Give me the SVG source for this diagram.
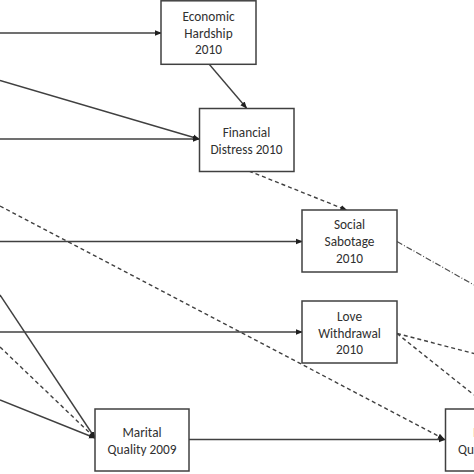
<svg xmlns="http://www.w3.org/2000/svg" width="474" height="474" viewBox="0 0 474 474">
<style>
.box{fill:#fff;stroke:#404040;stroke-width:1.5}
.t{font-family:Carlito,"Liberation Sans",Arial,sans-serif;font-size:13.3px;fill:#303030;text-anchor:middle}
.s{fill:none;stroke:#404040;stroke-width:1.4}
.d{fill:none;stroke:#404040;stroke-width:1.4;stroke-dasharray:4 3}
.dd{fill:none;stroke:#505050;stroke-width:1.2;stroke-dasharray:6 2 1 2}
</style>
<defs>
<marker id="a" viewBox="0 0 8 8" refX="7" refY="4" markerWidth="7" markerHeight="7" markerUnits="userSpaceOnUse" orient="auto">
<path d="M0,0.8 L8,4 L0,7.2 Z" fill="#202020"/>
</marker>
</defs>
<rect width="474" height="474" fill="#fff"/>
<g id="connectors">
<line class="s" x1="0" y1="33" x2="161" y2="33" marker-end="url(#a)"/>
<line class="s" x1="0" y1="80.5" x2="199" y2="139" marker-end="url(#a)"/>
<line class="s" x1="0" y1="139" x2="199" y2="139" marker-end="url(#a)"/>
<line class="s" x1="209" y1="64" x2="246.5" y2="108" marker-end="url(#a)"/>
<line class="d" x1="249" y1="171" x2="346.5" y2="210" marker-end="url(#a)"/>
<line class="s" x1="0" y1="241.5" x2="302" y2="241.5" marker-end="url(#a)"/>
<line class="s" x1="0" y1="332" x2="302" y2="332" marker-end="url(#a)"/>
<line class="d" x1="0" y1="206" x2="444" y2="439" marker-end="url(#a)"/>
<line class="s" x1="0" y1="295" x2="95" y2="438" marker-end="url(#a)"/>
<line class="d" x1="0" y1="347" x2="95" y2="438" marker-end="url(#a)"/>
<line class="s" x1="0" y1="400" x2="95" y2="438" marker-end="url(#a)"/>
<line class="s" x1="189" y1="439.5" x2="445" y2="439.5" marker-end="url(#a)"/>
<line class="dd" x1="397" y1="241.5" x2="474" y2="285"/>
<line class="d" x1="397" y1="333.5" x2="474" y2="353.5"/>
<line class="d" x1="397" y1="333.5" x2="474" y2="395"/>
</g>
<g id="economic-hardship">
<rect class="box" x="161" y="0.8" width="95" height="63.5"/>
<text class="t" x="208.5" y="21">Economic</text>
<text class="t" x="208.5" y="37.5">Hardship</text>
<text class="t" x="208.5" y="54">2010</text>
</g>
<g id="financial-distress">
<rect class="box" x="199.5" y="108.5" width="94.5" height="63"/>
<text class="t" x="246.5" y="137">Financial</text>
<text class="t" x="246.5" y="153.5">Distress 2010</text>
</g>
<g id="social-sabotage">
<rect class="box" x="302" y="210" width="95" height="62"/>
<text class="t" x="349.5" y="229">Social</text>
<text class="t" x="349.5" y="246">Sabotage</text>
<text class="t" x="349.5" y="262.5">2010</text>
</g>
<g id="love-withdrawal">
<rect class="box" x="302" y="301" width="95" height="62"/>
<text class="t" x="349.5" y="320.5">Love</text>
<text class="t" x="349.5" y="337.5">Withdrawal</text>
<text class="t" x="349.5" y="353.5">2010</text>
</g>
<g id="marital-quality-2009">
<rect class="box" x="95" y="409" width="94" height="62"/>
<text class="t" x="142" y="437">Marital</text>
<text class="t" x="142" y="454">Quality 2009</text>
</g>
<g id="marital-quality-2011">
<rect class="box" x="445.5" y="409" width="94" height="62"/>
<text class="t" x="492.5" y="437">Marital</text>
<text class="t" x="492.5" y="454">Quality 2011</text>
</g>
</svg>
